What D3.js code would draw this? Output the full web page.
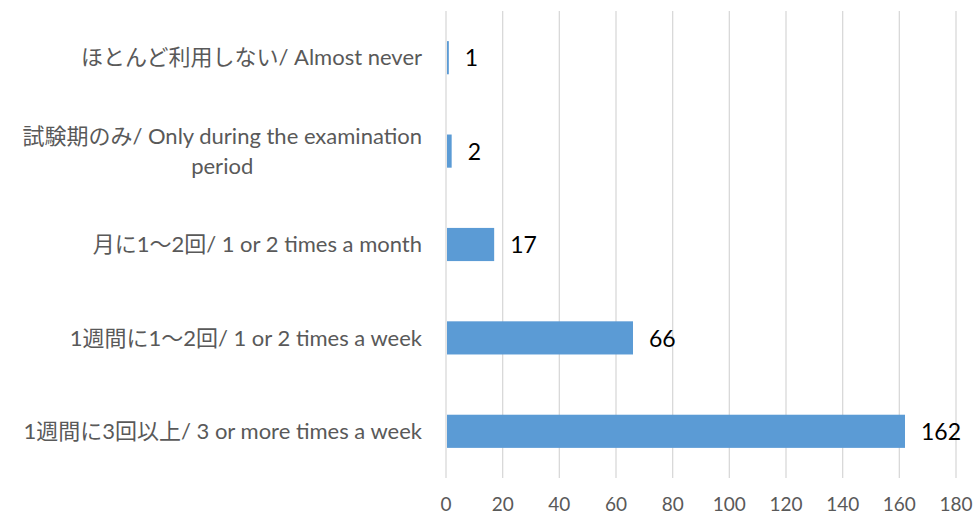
<!DOCTYPE html>
<meta charset="utf-8">
<style>
  body { margin: 0; background: #fff; }
  svg text { font-family: Lato, "Noto Sans CJK JP", sans-serif; }
  .cat text { fill: #595959; font-size: 22px; }
  .tick-lbl { fill: #595959; font-size: 19px; text-anchor: middle; }
  .val { fill: #000; font-size: 23px; }
</style>
<svg width="977" height="517"></svg>
<script src="https://cdnjs.cloudflare.com/ajax/libs/d3/7.8.5/d3.min.js"></script>
<script>
// data, top to bottom
var categories = [
  ["ほとんど利用しない/ Almost never"],
  ["試験期のみ/ Only during the examination", "period"],
  ["月に1〜2回/ 1 or 2 times a month"],
  ["1週間に1〜2回/ 1 or 2 times a week"],
  ["1週間に3回以上/ 3 or more times a week"]
];
var values = [1, 2, 17, 66, 162];
var tickValues = [0, 20, 40, 60, 80, 100, 120, 140, 160, 180];

var svg = d3.select("svg");

var x = d3.scaleLinear().domain([0, 180]).range([446, 956]);
var y = d3.scaleBand()
    .domain(d3.range(categories.length))
    .range([11, 478])
    .paddingInner(0.645)
    .paddingOuter(0.3225);

// gridlines
svg.append("g").selectAll("line")
  .data(tickValues)
  .join("line")
    .attr("x1", function(d) { return x(d); })
    .attr("x2", function(d) { return x(d); })
    .attr("y1", 11)
    .attr("y2", 478)
    .attr("stroke", "#d9d9d9")
    .attr("stroke-width", 1.3);

// tick labels
svg.append("g").selectAll("text")
  .data(tickValues)
  .join("text")
    .attr("class", "tick-lbl")
    .attr("x", function(d) { return x(d); })
    .attr("y", 504)
    .attr("dy", "0.35em")
    .text(function(d) { return d; });

// bars
svg.append("g").selectAll("rect")
  .data(values)
  .join("rect")
    .attr("x", x(0) + 1)
    .attr("y", function(d, i) { return y(i); })
    .attr("width", function(d) { return x(d) - x(0) - 1; })
    .attr("height", y.bandwidth())
    .attr("fill", "#5b9bd5");

// value labels
svg.append("g").selectAll("text")
  .data(values)
  .join("text")
    .attr("class", "val")
    .attr("x", function(d) { return x(d) + 16; })
    .attr("y", function(d, i) { return y(i) + y.bandwidth() / 2; })
    .attr("dy", "0.38em")
    .text(function(d) { return d; });

// category labels (wrapped lines centered under the first one)
var cat = svg.append("g").attr("class", "cat");
categories.forEach(function(lines, i) {
  var cy = y(i) + y.bandwidth() / 2;
  var lh = 30;
  var top = cy - (lines.length - 1) * lh / 2;
  var first = cat.append("text")
      .attr("x", 422)
      .attr("y", top)
      .attr("dy", "0.35em")
      .attr("text-anchor", "end")
      .text(lines[0]);
  var w = first.node().getComputedTextLength();
  for (var k = 1; k < lines.length; k++) {
    cat.append("text")
      .attr("x", 422 - w / 2)
      .attr("y", top + k * lh)
      .attr("dy", "0.35em")
      .attr("text-anchor", "middle")
      .text(lines[k]);
  }
});
</script>
